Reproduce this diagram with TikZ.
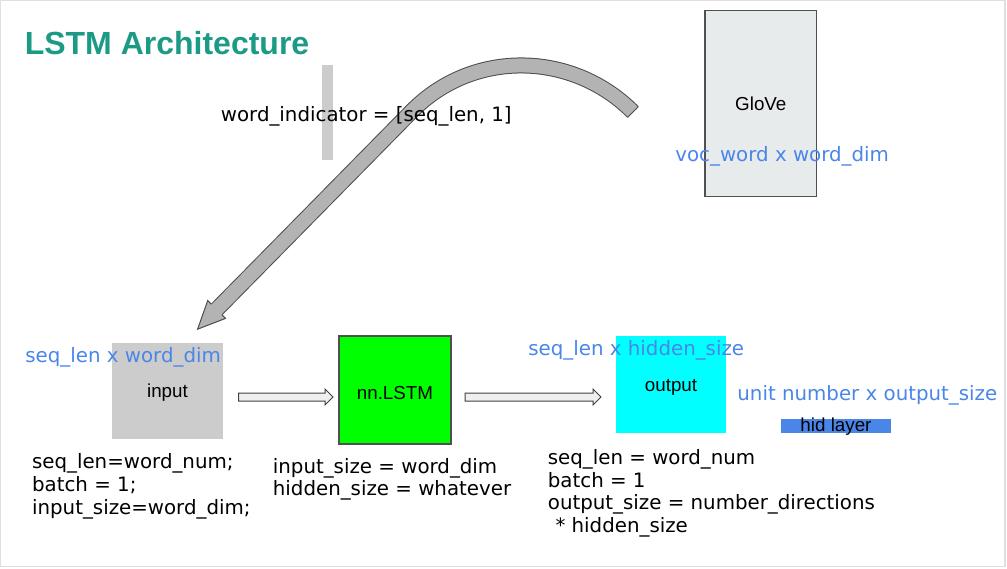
\documentclass[tikz,border=0pt]{standalone}
\usepackage{fontspec}
\usepackage{xcolor}
\usetikzlibrary{calc}
\setmainfont{DejaVu Sans}
\newfontfamily\arialfont{Liberation Sans}

\definecolor{titleteal}{HTML}{1B9A86}
\definecolor{dimblue}{HTML}{4A86E8}
\definecolor{inputgray}{HTML}{CCCCCC}
\definecolor{glovegray}{HTML}{E8EBEC}
\definecolor{arrowgray}{HTML}{B3B3B3}
\definecolor{pipegray}{HTML}{EEF0F0}
\definecolor{edgegray}{HTML}{505050}
\definecolor{lstmgreen}{HTML}{00FF00}
\definecolor{outcyan}{HTML}{00FFFF}

% hollow block arrow between two coordinates (pixel units)
\newcommand{\pipearrow}[2]{%
\filldraw[fill=pipegray,draw=black!75,line width=0.5pt]
  ($(#1)+(0,-4)$) -- ($(#2)+(-8,-4)$) -- ($(#2)+(-8,-8)$) -- (#2)
  -- ($(#2)+(-8,8)$) -- ($(#2)+(-8,4)$) -- ($(#1)+(0,4)$) -- cycle;}

\begin{document}
\begin{tikzpicture}[x=0.5pt,y=-0.5pt,
  txt/.style={inner sep=0pt,font=\fontsize{9.9}{11.5}\selectfont},
  dimtxt/.style={txt,text=dimblue},
  boxtxt/.style={inner sep=0pt,font=\arialfont\fontsize{9.4}{11}\selectfont},
  layer/.style={inner sep=0pt,outer sep=0pt}]
\useasboundingbox (0,0) rectangle (1007,568);
\draw[gray!25,line width=0.75pt] (0.5,0.5) rectangle (1005,566.5);

\node[anchor=base west,inner sep=0pt,text=titleteal,
  font=\arialfont\bfseries\fontsize{16}{19}\selectfont] (title) at (24.4,54.5) {LSTM Architecture};

% embedding table
\node[layer,fill=glovegray,draw=edgegray,line width=0.6pt,
  minimum width=55.6pt,minimum height=93.3pt] (glove) at (760.6,103.4) {};
\node[boxtxt,anchor=base] (glovetxt) at (760.8,110.7) {GloVe};
\node[dimtxt,anchor=base west] (vocdim) at (675,161.7) {voc\_word x word\_dim};

% lookup
\node[layer,fill=inputgray,minimum width=5.5pt,minimum height=47.5pt] (idxbar) at (327.5,112.5) {};
\draw[line width=0.5pt,draw=black!70,double=arrowgray,double distance=7pt]
  (633,112) .. controls (571.8,50.8) and (472.8,49.4) .. (412,111) -- (216.6,309.5);
\draw[line width=0.5pt,black!70] (638.3,106.7) -- (627.7,117.3);
\filldraw[fill=arrowgray,draw=black!70,line width=0.5pt]
  (211.3,304.2) -- (207.7,300.6) -- (197.6,329.2) -- (225.5,318.4) -- (221.9,314.8);
\node[txt,anchor=base west] (wordind) at (220.5,121) {word\_indicator = [seq\_len, 1]};

% layers
\node[layer,fill=inputgray,minimum width=55.2pt,minimum height=47.8pt] (input) at (167.5,391.2) {};
\node[boxtxt,anchor=base] (inputtxt) at (167.5,397.7) {input};
\node[dimtxt,anchor=base west] (indim) at (25,362) {seq\_len x word\_dim};

\node[layer,fill=lstmgreen,draw=edgegray,line width=0.6pt,
  minimum width=56pt,minimum height=54pt] (lstm) at (395,390) {};
\node[boxtxt,anchor=base] (lstmtxt) at (395,399) {nn.LSTM};

\node[layer,fill=outcyan,minimum width=54.8pt,minimum height=48.3pt] (output) at (670.8,384.3) {};
\node[boxtxt,anchor=base] (outputtxt) at (671,391.7) {output};
\node[dimtxt,anchor=base west] (outdim) at (528,355) {seq\_len x hidden\_size};

\node[dimtxt,anchor=base west] (unitdim) at (737,400.7) {unit number x output\_size};
\node[layer,fill=dimblue,minimum width=55pt,minimum height=6.8pt] (hid) at (836,425.8) {};
\node[boxtxt,anchor=base] (hidtxt) at (836,431.7) {hid layer};

% arrows between layers
\path (input.east) ++(16,6) coordinate (p1s);
\path (lstm.west) ++(-6,7) coordinate (p1e);
\path (lstm.east) ++(14,7) coordinate (p2s);
\path (output.west) ++(-15,12.7) coordinate (p2e);
\pipearrow{p1s}{p1e}
\pipearrow{p2s}{p2e}

% settings under each layer
\foreach \t [count=\i] in {seq\_len=word\_num;, batch = 1;, input\_size=word\_dim;}
  \node[txt,anchor=base west] (inspec-\i) at (31.7,{468.3+22.9*(\i-1)}) {\t};
\foreach \t [count=\i] in {input\_size = word\_dim, hidden\_size = whatever}
  \node[txt,anchor=base west] (lstmspec-\i) at (272.5,{473.3+22.4*(\i-1)}) {\t};
\foreach \t [count=\i] in {seq\_len = word\_num, batch = 1, output\_size = number\_directions, {\hspace*{3.8pt}* hidden\_size}}
  \node[txt,anchor=base west] (outspec-\i) at (547.5,{464.3+22.8*(\i-1)}) {\t};
\end{tikzpicture}
\end{document}
